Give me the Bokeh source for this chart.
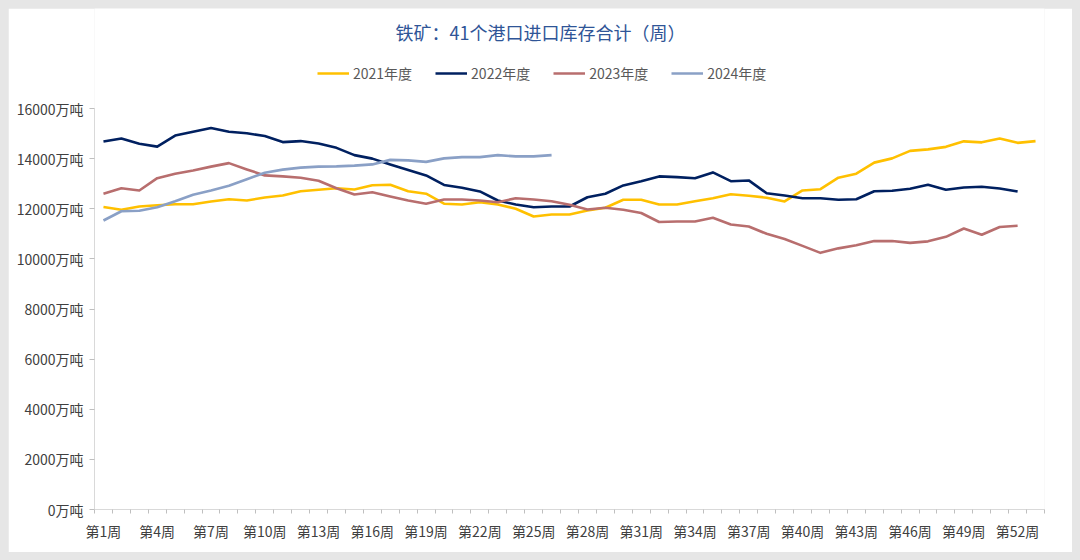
from bokeh.plotting import figure
from bokeh.models import FixedTicker, Legend, LegendItem, Range1d, Label
from bokeh.embed import file_html
from bokeh.resources import INLINE

weeks_labels = [f"第{i}周" for i in range(1, 54, 3)]
y_ticks = [0, 2000, 4000, 6000, 8000, 10000, 12000, 14000, 16000]

series_names = ["2021年度", "2022年度", "2023年度", "2024年度"]
y2021 = [12070, 11960, 12090, 12140, 12180, 12180, 12290, 12380, 12330, 12450,
         12530, 12700, 12760, 12820, 12770, 12940, 12960, 12700, 12600, 12200,
         12170, 12260, 12170, 12000, 11690, 11770, 11770, 11930, 12040, 12360,
         12360, 12170, 12170, 12300, 12420, 12580, 12520, 12440, 12290, 12730,
         12780, 13240, 13400, 13840, 14010, 14310, 14370, 14470, 14690, 14650,
         14800, 14630, 14700]
y2022 = [14680, 14800, 14590, 14480, 14920, 15070, 15220, 15070, 15010, 14900,
         14660, 14700, 14600, 14430, 14140, 14000, 13770, 13550, 13330, 12950,
         12840, 12690, 12330, 12170, 12060, 12090, 12090, 12460, 12600, 12930,
         13100, 13290, 13260, 13220, 13450, 13100, 13130, 12620, 12530, 12420,
         12420, 12360, 12380, 12700, 12720, 12800, 12960, 12760, 12850, 12880,
         12810, 12690]
y2023 = [12600, 12820, 12730, 13220, 13400, 13530, 13680, 13820, 13570, 13330,
         13290, 13240, 13120, 12820, 12570, 12660, 12490, 12330, 12200, 12370,
         12370, 12330, 12260, 12420, 12370, 12300, 12160, 11970, 12040, 11960,
         11830, 11470, 11490, 11490, 11640, 11370, 11290, 11000, 10790, 10520,
         10240, 10420, 10540, 10710, 10710, 10640, 10700, 10880, 11210, 10960,
         11270, 11320]
y2024 = [11530, 11900, 11920, 12060, 12300, 12560, 12730, 12920, 13180, 13440,
         13560, 13640, 13680, 13690, 13720, 13770, 13950, 13930, 13870, 14010,
         14060, 14060, 14140, 14090, 14090, 14140]
colors = ["#FFC000", "#002060", "#B86E6E", "#8AA0C6"]
title_text = "铁矿：41个港口进口库存合计（周）"

FONT = "Noto Sans CJK SC"
N_WEEKS = 53
Y_MAX_AXIS = 16000
FIG_W, FIG_H = 1064, 544
BORDER_L, BORDER_R, BORDER_B = 86, 28, 43
FRAME_W = FIG_W - BORDER_L - BORDER_R
FRAME_H = FIG_H - BORDER_B
AXIS_TOP_PX = 100  # distance of the 16000 line below the top of the frame
y_top = Y_MAX_AXIS * FRAME_H / (FRAME_H - AXIS_TOP_PX)

p = figure(width=FIG_W, height=FIG_H, output_backend="svg", toolbar_location=None,
           x_range=Range1d(0.5, N_WEEKS + 0.5), y_range=Range1d(0, y_top),
           min_border_left=BORDER_L, min_border_right=BORDER_R, min_border_top=0,
           min_border_bottom=BORDER_B, title=None)
p.outline_line_color = None
p.xgrid.visible = False
p.ygrid.visible = False
p.background_fill_color = "white"
p.border_fill_color = "white"

renderers = []
for name, ys, c in zip(series_names, [y2021, y2022, y2023, y2024], colors):
    xs = list(range(1, len(ys) + 1))
    r = p.line(xs, ys, line_color=c, line_width=2.6, line_join="round")
    renderers.append((name, r))

# x axis
label_pos = list(range(1, 54, 3))
p.xaxis.ticker = FixedTicker(ticks=label_pos,
                             minor_ticks=[i + 0.5 for i in range(0, N_WEEKS + 1)])
p.xaxis.major_label_overrides = {k: v for k, v in zip(label_pos, weeks_labels)}
p.xaxis.major_tick_line_color = None
p.xaxis.major_tick_out = 0
p.xaxis.major_tick_in = 0
p.xaxis.minor_tick_line_color = "#bfbfbf"
p.xaxis.minor_tick_out = 4
p.xaxis.minor_tick_in = 0
p.xaxis.axis_line_color = "#d9d9d9"
p.xaxis.major_label_standoff = 7
p.xaxis.major_label_text_font = FONT
p.xaxis.major_label_text_font_size = "14px"
p.xaxis.major_label_text_color = "#404040"

# y axis
p.yaxis.ticker = FixedTicker(ticks=y_ticks)
p.yaxis.bounds = (0, Y_MAX_AXIS)
p.yaxis.major_label_overrides = {v: f"{v}万吨" for v in y_ticks}
p.yaxis.axis_line_color = "#d9d9d9"
p.yaxis.major_tick_line_color = "#bfbfbf"
p.yaxis.major_tick_out = 5
p.yaxis.major_tick_in = 0
p.yaxis.minor_tick_line_color = None
p.yaxis.major_label_standoff = 6
p.yaxis.major_label_text_font = FONT
p.yaxis.major_label_text_font_size = "14px"
p.yaxis.major_label_text_color = "#404040"

LEGEND_H = 20
legend = Legend(items=[LegendItem(label=n, renderers=[r]) for n, r in renderers],
                orientation="horizontal", location=(223, FRAME_H - 65 - LEGEND_H / 2),
                glyph_width=32, glyph_height=LEGEND_H, label_height=LEGEND_H,
                label_standoff=4, spacing=23,
                padding=0, margin=0, border_line_color=None,
                background_fill_alpha=0,
                label_text_font=FONT, label_text_font_size="14px",
                label_text_color="#595959")
p.add_layout(legend, "center")

title = Label(x=446, y=FRAME_H - 23, x_units="screen", y_units="screen",
              text=title_text, text_align="center", text_baseline="middle",
              text_font=FONT, text_font_size="18px", text_color="#2F5597")
p.add_layout(title)

html = file_html(p, INLINE)
html = html.replace(
    "</head>",
    "<style>html, body { background: #e6e6e6; } body { padding: 8px; }</style></head>",
    1)
open("out.html", "w").write(html)
